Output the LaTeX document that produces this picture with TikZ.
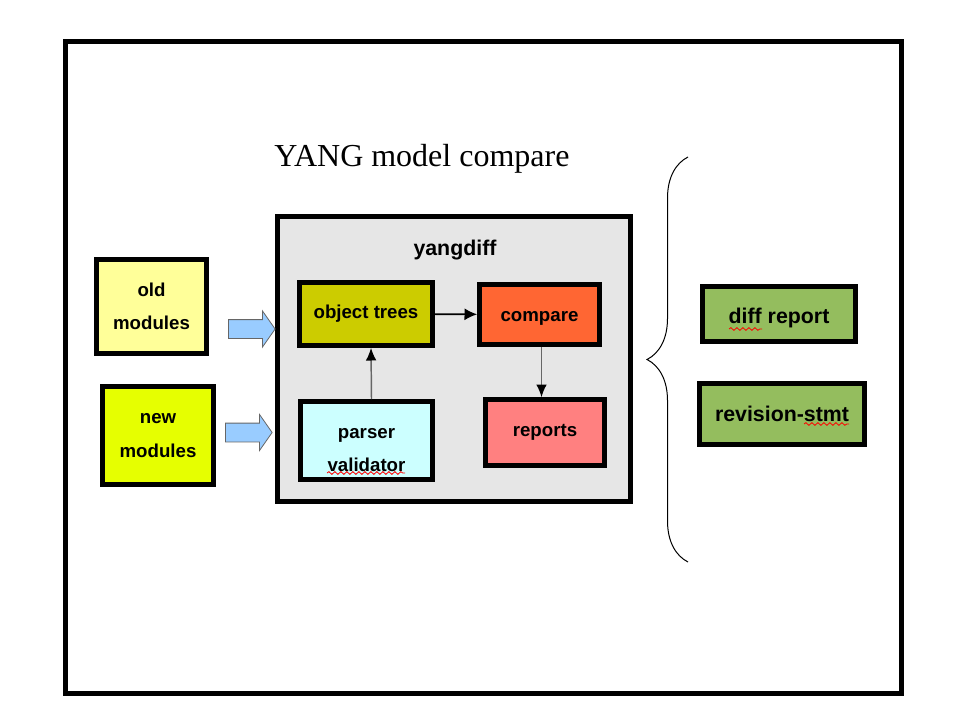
\documentclass[tikz,border=0pt]{standalone}
\usepackage{fontspec}
\setmainfont{Liberation Sans}
\newfontfamily\titlefont{Liberation Serif}
\usepackage{tikz}
\usetikzlibrary{arrows.meta,calc,positioning,shapes.arrows,decorations.pathreplacing,decorations.pathmorphing}
\definecolor{olive3}{HTML}{CCCC00}
\definecolor{orange3}{HTML}{FF6633}
\definecolor{cyan1}{HTML}{CCFFFF}
\definecolor{salmon1}{HTML}{FF8080}
\definecolor{yellow1}{HTML}{FFFF99}
\definecolor{lime2}{HTML}{E6FF00}
\definecolor{green3}{HTML}{94BD5E}
\definecolor{gray1}{HTML}{E6E6E6}
\definecolor{skyblue}{HTML}{99CCFF}

\tikzset{
  modbox/.style={draw, line width=3.5pt, inner sep=0pt, align=center,
    font=\bfseries\fontsize{14pt}{25pt}\selectfont},
  outbox/.style={modbox, fill=green3, font=\bfseries\fontsize{16pt}{19pt}\selectfont},
  feed/.style={single arrow, draw=black!60, fill=skyblue, line width=0.6pt,
    inner xsep=0pt, inner ysep=6.75pt, text height=0pt, text depth=0pt,
    minimum height=35pt, single arrow head extend=6.5pt,
    single arrow tip angle=110},
  flow/.style={-{Latex[length=9.5pt,width=9pt]}, line width=1.2pt},
  flowup/.style={-{Latex[length=9.5pt,width=8pt,black]}, draw=black!60, line width=1.1pt},
  squiggle/.style={red, line width=0.6pt, decorate,
    decoration={snake, amplitude=1pt, segment length=4.5pt}}
}

\begin{document}
\begin{tikzpicture}[x=0.75pt,y=-0.75pt]
  \useasboundingbox (0,0) rectangle (960,720);
  \draw[line width=3.75pt] (65.5,41.5) rectangle (901,693);

  \node[anchor=base, font=\titlefont\fontsize{24pt}{28pt}\selectfont] (title) at (422,167) {YANG model compare};

  % yangdiff tool
  \node[draw, line width=3.5pt, fill=gray1, minimum width=264.75pt, minimum height=213.75pt] (engine) at (454,359) {};
  \node[font=\bfseries\fontsize{16pt}{19pt}\selectfont] (engname) at (455,250) {yangdiff};

  \node[modbox, fill=olive3, minimum width=99.75pt, minimum height=47.25pt] (trees) at (366,314) {object trees};
  \node[modbox, fill=orange3, minimum width=90pt, minimum height=45pt] (compare) at (539.5,314.5) {\rule{0pt}{13pt}compare};
  \node[modbox, fill=cyan1, minimum width=99pt, minimum height=58.5pt] (parser) at (366.5,440.5) {\rule{0pt}{22pt}parser\\validator};
  \node[modbox, fill=salmon1, minimum width=89.25pt, minimum height=49.5pt] (reports) at (545,432.5) {reports};

  \draw[flow] (trees) -- (compare);
  \draw[flowup] ([xshift=3.75pt]parser.north) -- ([xshift=3.75pt]trees.south);
  \draw[flowup] ([xshift=1.5pt]compare.south) -- ([xshift=1.5pt]compare.south |- reports.north);

  % inputs
  \node[modbox, fill=yellow1, minimum width=82.5pt, minimum height=70.5pt] (old) at (151.5,306.5) {old\\modules};
  \node[modbox, fill=lime2, minimum width=83.25pt, minimum height=73.5pt] (new) at (158,435.5) {new\\modules};
  \node[feed] (inold) at (248.5,329) {};
  \node[feed] (innew) at (245.5,432.5) {};

  % outputs
  \coordinate (btop) at (688,157);
  \coordinate (bbot) at (688,562);
  \draw[line width=0.75pt, decorate, decoration={brace, amplitude=30.75pt}] (bbot) -- (btop);
  \node[outbox, minimum width=114.75pt, minimum height=41.25pt] (diff) at (779,314) {\rule{0pt}{17.5pt}diff report};
  \node[outbox, minimum width=123.75pt, minimum height=45.75pt] (revision) at (782,414) {revision-stmt};

  \draw[squiggle] (327,473) -- (405,473);
  \draw[squiggle] (729,329) -- (762,329);
  \draw[squiggle] (804,424) -- (849,424);
\end{tikzpicture}
\end{document}
